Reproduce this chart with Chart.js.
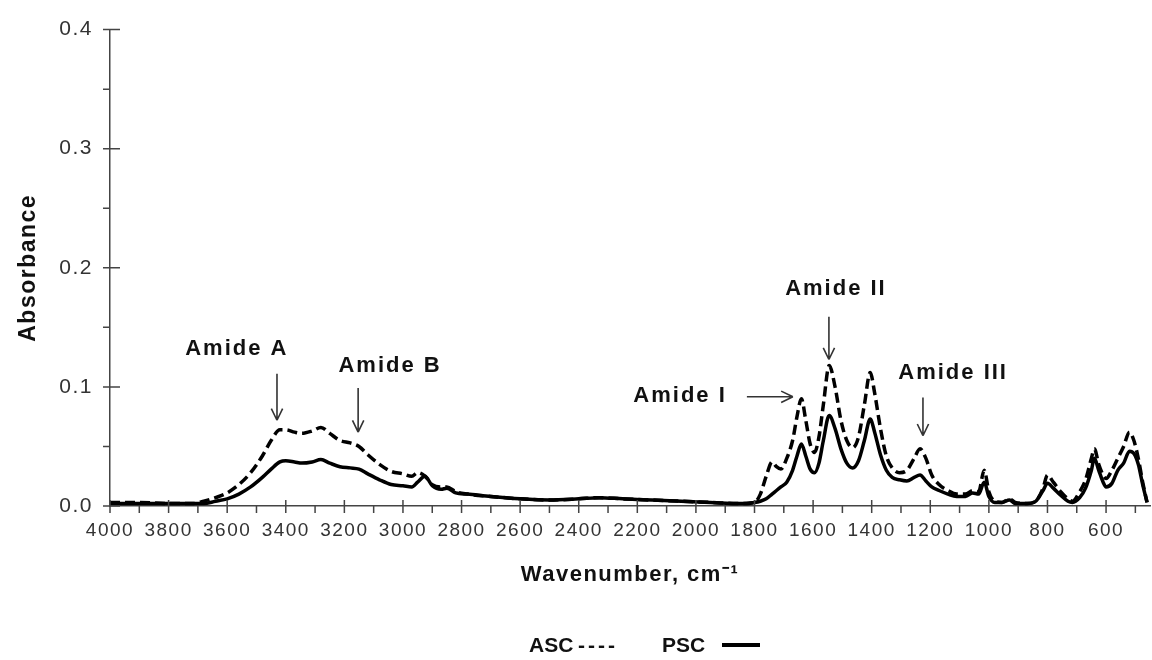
<!DOCTYPE html>
<html>
<head>
<meta charset="utf-8">
<script src="https://cdn.jsdelivr.net/npm/chart.js@4.4.1/dist/chart.umd.min.js"></script>
<style>
  html, body { margin: 0; padding: 0; background: #fff; }
  #wrap { width: 1152px; height: 660px; position: relative; }
</style>
</head>
<body>
<div id="wrap"><canvas id="ftir"></canvas></div>
<script>
// FTIR spectra - ASC (dashed) vs PSC (solid)
const wavenumbers = [4000, 3900, 3800, 3720, 3680, 3640, 3600, 3560, 3520, 3480, 3450, 3420, 3400, 3370, 3345, 3310, 3280, 3250, 3215, 3180, 3150, 3120, 3080, 3040, 3000, 2970, 2950, 2925, 2900, 2870, 2850, 2820, 2780, 2700, 2600, 2500, 2400, 2330, 2250, 2150, 2050, 1950, 1850, 1800, 1780, 1760, 1740, 1725, 1710, 1690, 1670, 1655, 1640, 1625, 1610, 1595, 1580, 1565, 1545, 1525, 1505, 1485, 1465, 1445, 1425, 1405, 1390, 1370, 1350, 1330, 1305, 1280, 1255, 1235, 1215, 1195, 1170, 1140, 1110, 1080, 1055, 1035, 1016, 1000, 980, 955, 930, 910, 870, 840, 815, 800, 780, 755, 730, 715, 690, 670, 650, 640, 625, 610, 600, 580, 560, 540, 520, 505, 490, 475, 460];
const ascValues = [0.003, 0.003, 0.002, 0.002, 0.004, 0.007, 0.011, 0.018, 0.028, 0.042, 0.055, 0.064, 0.064, 0.062, 0.061, 0.063, 0.066, 0.061, 0.055, 0.053, 0.050, 0.043, 0.035, 0.029, 0.027, 0.025, 0.028, 0.025, 0.018, 0.016, 0.016, 0.012, 0.010, 0.008, 0.006, 0.005, 0.006, 0.007, 0.006, 0.005, 0.004, 0.003, 0.002, 0.003, 0.010, 0.025, 0.037, 0.033, 0.031, 0.040, 0.055, 0.075, 0.090, 0.072, 0.052, 0.045, 0.058, 0.085, 0.118, 0.100, 0.072, 0.055, 0.049, 0.058, 0.085, 0.112, 0.095, 0.065, 0.042, 0.032, 0.028, 0.030, 0.040, 0.048, 0.040, 0.026, 0.018, 0.013, 0.010, 0.010, 0.013, 0.012, 0.030, 0.012, 0.004, 0.003, 0.006, 0.003, 0.002, 0.004, 0.015, 0.026, 0.020, 0.012, 0.006, 0.004, 0.012, 0.022, 0.040, 0.048, 0.035, 0.026, 0.023, 0.030, 0.040, 0.050, 0.062, 0.055, 0.040, 0.020, 0.003];
const pscValues = [0.002, 0.002, 0.002, 0.002, 0.002, 0.004, 0.006, 0.010, 0.016, 0.024, 0.031, 0.037, 0.038, 0.037, 0.036, 0.037, 0.039, 0.036, 0.033, 0.032, 0.031, 0.027, 0.022, 0.018, 0.017, 0.016, 0.020, 0.025, 0.017, 0.014, 0.015, 0.011, 0.010, 0.008, 0.006, 0.005, 0.006, 0.007, 0.006, 0.005, 0.004, 0.003, 0.002, 0.003, 0.004, 0.006, 0.010, 0.013, 0.016, 0.020, 0.030, 0.042, 0.052, 0.042, 0.031, 0.028, 0.036, 0.055, 0.076, 0.065, 0.048, 0.036, 0.032, 0.038, 0.055, 0.073, 0.062, 0.043, 0.030, 0.024, 0.022, 0.021, 0.024, 0.026, 0.021, 0.016, 0.013, 0.010, 0.008, 0.008, 0.011, 0.010, 0.020, 0.008, 0.003, 0.003, 0.005, 0.002, 0.002, 0.004, 0.013, 0.019, 0.015, 0.009, 0.004, 0.003, 0.007, 0.015, 0.030, 0.040, 0.030, 0.020, 0.016, 0.019, 0.030, 0.036, 0.046, 0.044, 0.035, 0.018, 0.003];

// axis ticks
const xTickValues = [];
for (let v = 4000; v >= 500; v -= 100) xTickValues.push(v);
const yTickValues = [0, 0.05, 0.1, 0.15, 0.2, 0.25, 0.3, 0.35, 0.4];

// peak labels (data units: wavenumber / absorbance)
const peakLabels = [
    { text: 'Amide A',   tx: 3567, ty: 0.132, arrow: { x1: 3430, y1: 0.111, x2: 3430, y2: 0.072 } },
    { text: 'Amide B',   tx: 3044, ty: 0.118, arrow: { x1: 3153, y1: 0.099, x2: 3153, y2: 0.062 } },
    { text: 'Amide I',   tx: 2054, ty: 0.0925, arrow: { x1: 1826, y1: 0.0917, x2: 1669, y2: 0.0917 } },
    { text: 'Amide II',  tx: 1522, ty: 0.182, arrow: { x1: 1546, y1: 0.159, x2: 1546, y2: 0.123 } },
    { text: 'Amide III', tx: 1122, ty: 0.112, arrow: { x1: 1225, y1: 0.091, x2: 1225, y2: 0.059 } }
];

const toPoints = (ys) => wavenumbers.map((w, i) => ({ x: w, y: ys[i] }));

// tick marks: major ticks cross the axis, minor ticks outside only
const tickMarks = {
    id: 'tickMarks',
    afterDatasetsDraw(chart) {
        const { ctx, chartArea, scales } = chart;
        ctx.save();
        ctx.strokeStyle = '#444';
        ctx.lineWidth = 1.5;
        ctx.beginPath();
        scales.x.ticks.forEach(t => {
            const px = scales.x.getPixelForValue(t.value);
            const major = t.value % 200 === 0;
            ctx.moveTo(px, chartArea.bottom + 7);
            ctx.lineTo(px, chartArea.bottom - (major ? 6 : 0));
        });
        scales.y.ticks.forEach(t => {
            const py = scales.y.getPixelForValue(t.value);
            const major = Math.round(t.value * 100) % 10 === 0;
            ctx.moveTo(chartArea.left - 7, py);
            ctx.lineTo(chartArea.left + (major ? 10 : 0), py);
        });
        ctx.stroke();
        ctx.restore();
    }
};

function arrowHead(ctx, x1, y1, x2, y2) {
    const a = Math.atan2(y2 - y1, x2 - x1);
    const len = 13, spread = Math.PI / 7;
    ctx.moveTo(x2, y2);
    ctx.lineTo(x2 - len * Math.cos(a - spread), y2 - len * Math.sin(a - spread));
    ctx.moveTo(x2, y2);
    ctx.lineTo(x2 - len * Math.cos(a + spread), y2 - len * Math.sin(a + spread));
}

const peakNotes = {
    id: 'peakNotes',
    afterDraw(chart) {
        const { ctx, scales } = chart;
        const sx = scales.x, sy = scales.y;
        ctx.save();
        ctx.font = 'bold 22px "Liberation Sans", Arial, sans-serif';
        ctx.letterSpacing = '2px';
        ctx.fillStyle = '#111';
        ctx.textAlign = 'center';
        ctx.textBaseline = 'middle';
        ctx.strokeStyle = '#333';
        ctx.lineWidth = 1.6;
        peakLabels.forEach(p => {
            ctx.fillText(p.text, sx.getPixelForValue(p.tx), sy.getPixelForValue(p.ty));
            const x1 = sx.getPixelForValue(p.arrow.x1), y1 = sy.getPixelForValue(p.arrow.y1);
            const x2 = sx.getPixelForValue(p.arrow.x2), y2 = sy.getPixelForValue(p.arrow.y2);
            ctx.beginPath();
            ctx.moveTo(x1, y1);
            ctx.lineTo(x2, y2);
            arrowHead(ctx, x1, y1, x2, y2);
            ctx.stroke();
        });

        // legend line under the chart
        ctx.letterSpacing = '0px';
        ctx.font = 'bold 21px "Liberation Sans", Arial, sans-serif';
        ctx.textAlign = 'left';
        ctx.fillText('ASC', 529, 646);
        ctx.letterSpacing = '3px';
        ctx.fillText('----', 578, 646);
        ctx.letterSpacing = '0px';
        ctx.fillText('PSC', 662, 646);
        ctx.strokeStyle = '#000';
        ctx.lineWidth = 4;
        ctx.beginPath();
        ctx.moveTo(722, 645);
        ctx.lineTo(760, 645);
        ctx.stroke();
        ctx.restore();
    }
};

const spacing = {
    id: 'spacing',
    beforeDraw(chart) { chart.ctx.letterSpacing = '1.5px'; }
};

new Chart(document.getElementById('ftir'), {
    type: 'line',
    data: {
        datasets: [
            {
                label: 'ASC',
                data: toPoints(ascValues),
                borderColor: '#000',
                borderWidth: 3.5,
                borderDash: [10, 5],
                pointRadius: 0,
                cubicInterpolationMode: 'monotone',
                fill: false
            },
            {
                label: 'PSC',
                data: toPoints(pscValues),
                borderColor: '#000',
                borderWidth: 3.5,
                pointRadius: 0,
                cubicInterpolationMode: 'monotone',
                fill: false
            }
        ]
    },
    options: {
        responsive: true,
        maintainAspectRatio: false,
        animation: false,
        layout: { padding: { top: 26, right: 2, left: 0, bottom: 0 } },
        plugins: {
            legend: { display: false },
            tooltip: { enabled: false }
        },
        scales: {
            x: {
                type: 'linear',
                reverse: true,
                min: 450,
                max: 4000,
                afterBuildTicks: (scale) => { scale.ticks = xTickValues.map(v => ({ value: v })); },
                afterFit: (scale) => { scale.height = 154; },
                grid: { display: true, drawOnChartArea: false, drawTicks: false },
                border: { display: true, color: '#444', width: 1.5 },
                ticks: {
                    autoSkip: false,
                    maxRotation: 0,
                    padding: 13,
                    color: '#333',
                    font: { family: '"Liberation Sans", Arial, sans-serif', size: 19 },
                    callback: (v) => (v % 200 === 0 ? String(v) : '')
                },
                title: {
                    display: true,
                    text: 'Wavenumber, cm\u207B\u00B9',
                    color: '#111',
                    padding: { top: 0, bottom: 72 },
                    font: { family: '"Liberation Sans", Arial, sans-serif', size: 22, weight: 'bold' }
                }
            },
            y: {
                min: 0,
                max: 0.4,
                afterBuildTicks: (scale) => { scale.ticks = yTickValues.map(v => ({ value: v })); },
                afterFit: (scale) => { scale.width = 110; },
                grid: { display: true, drawOnChartArea: false, drawTicks: false },
                border: { display: true, color: '#444', width: 1.5 },
                ticks: {
                    padding: 17,
                    color: '#333',
                    font: { family: '"Liberation Sans", Arial, sans-serif', size: 21 },
                    callback: (v) => (Math.round(v * 100) % 10 === 0 ? v.toFixed(1) : '')
                },
                title: {
                    display: true,
                    text: 'Absorbance',
                    color: '#111',
                    padding: { top: 15, bottom: 0 },
                    font: { family: '"Liberation Sans", Arial, sans-serif', size: 23, weight: 'bold' }
                }
            }
        }
    },
    plugins: [spacing, tickMarks, peakNotes]
});
</script>
</body>
</html>
